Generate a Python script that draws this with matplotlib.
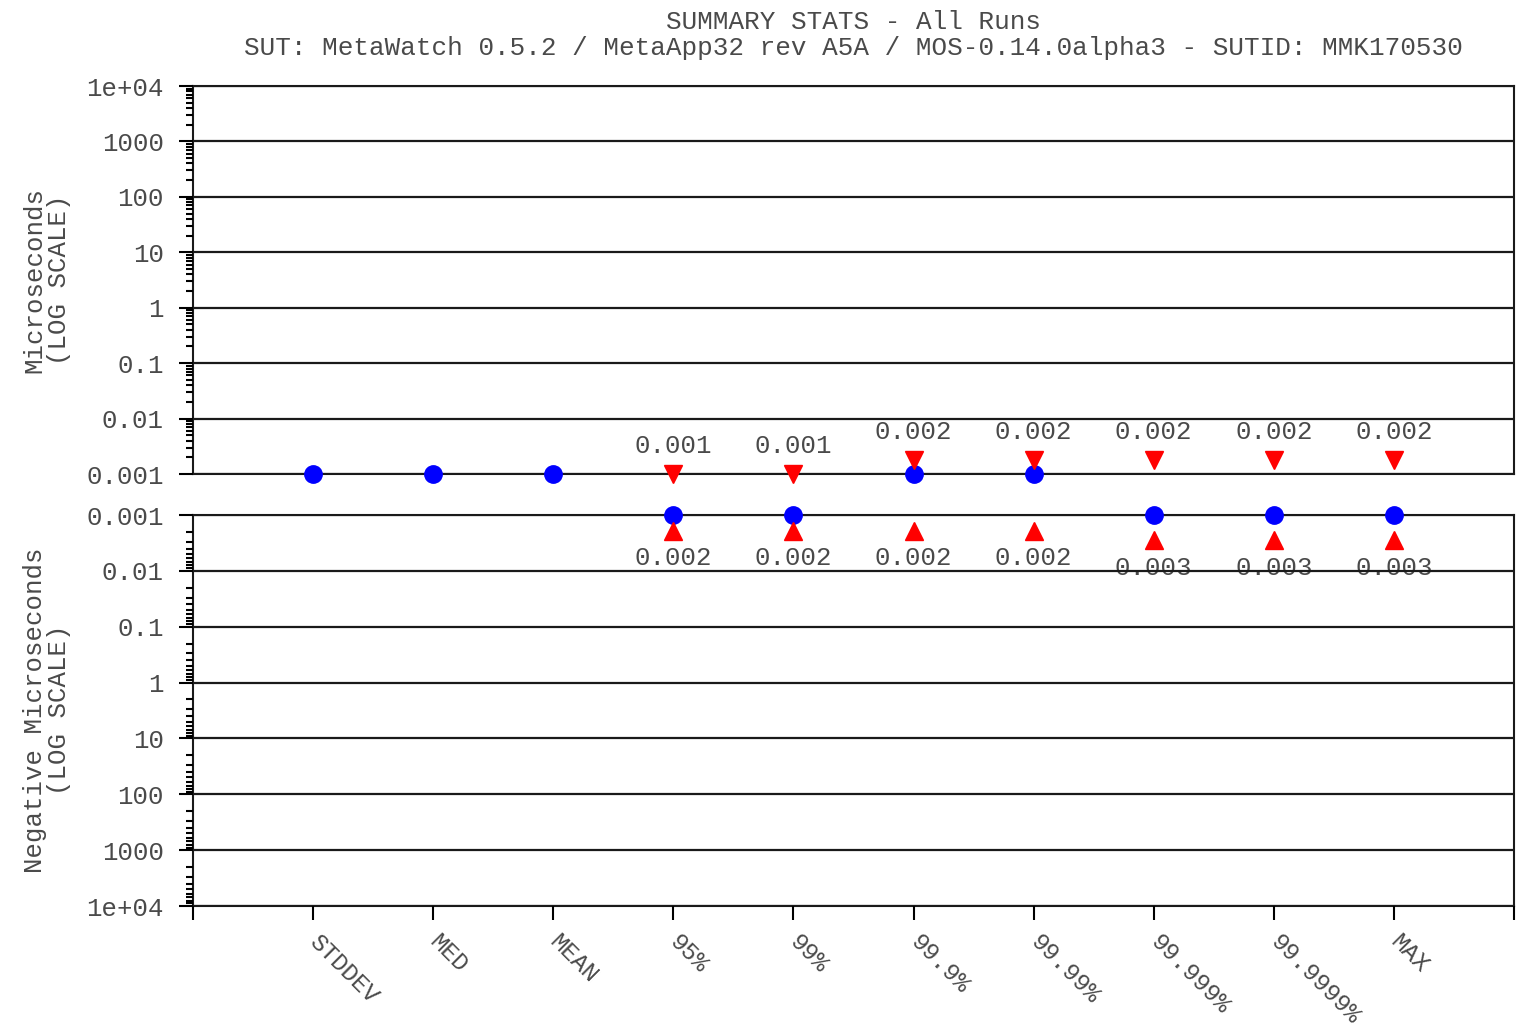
import numpy as np
import matplotlib
matplotlib.use("Agg")
import matplotlib.pyplot as plt
from matplotlib.ticker import FixedLocator, FixedFormatter, LogLocator, NullFormatter

plt.rcParams['font.family'] = ['Liberation Mono', 'DejaVu Sans Mono']

# --- data -------------------------------------------------------------
categories = ['STDDEV', 'MED', 'MEAN', '95%', '99%', '99.9%', '99.99%',
              '99.999%', '99.9999%', 'MAX']
nan = np.nan
# typical value (blue) on the positive / negative side
pos_center = [0.001, 0.001, 0.001, nan, nan, 0.001, 0.001, nan, nan, nan]
neg_center = [nan, nan, nan, 0.001, 0.001, nan, nan, 0.001, 0.001, 0.001]
# extreme value (red) on the positive / negative side
pos_peak = [nan, nan, nan, 0.001, 0.001, 0.0018, 0.0018, 0.0018, 0.0018, 0.0018]
neg_peak = [nan, nan, nan, 0.0019, 0.0019, 0.0019, 0.0019, 0.0028, 0.0028, 0.0028]

decades = [0.001, 0.01, 0.1, 1, 10, 100, 1000, 1e4]
decade_labels = ['0.001', '0.01', '0.1', '1', '10', '100', '1000', '1e+04']

title_lines = ["SUMMARY STATS - All Runs",
               "SUT: MetaWatch 0.5.2 / MetaApp32 rev A5A / MOS-0.14.0alpha3 - SUTID: MMK170530"]

# --- styling ----------------------------------------------------------
TXT = '#4a4a4a'
W, H = 1524, 1031
fig = plt.figure(figsize=(W / 100, H / 100), dpi=100)

left, right = 193 / W, 1514 / W
ax_top = fig.add_axes([left, 1 - 474 / H, right - left, 388 / H])
ax_bot = fig.add_axes([left, 1 - 906 / H, right - left, 391 / H])

x = np.arange(len(categories))


def style_axis(ax):
    ax.set_yscale('log')
    ax.set_xlim(-1, len(categories))
    ax.yaxis.set_major_locator(FixedLocator(decades))
    ax.yaxis.set_major_formatter(FixedFormatter(decade_labels))
    ax.yaxis.set_minor_locator(LogLocator(base=10, subs=np.arange(2, 10), numticks=50))
    ax.yaxis.set_minor_formatter(NullFormatter())
    ax.tick_params(axis='y', which='major', length=10, width=1.5, labelsize=18.5,
                   labelcolor=TXT, pad=11)
    ax.tick_params(axis='y', which='minor', length=5, width=1.5)
    for s in ax.spines.values():
        s.set_linewidth(1.5)
        s.set_color('#1a1a1a')
    ax.set_axisbelow(False)
    ax.grid(True, axis='y', which='major', color='#1a1a1a', linewidth=1.6)


style_axis(ax_top)
ax_top.set_ylim(0.001, 1e4)
ax_top.set_xticks([])

style_axis(ax_bot)
ax_bot.set_ylim(1e4, 0.001)
ax_bot.set_xticks(np.arange(-1, len(categories) + 1))
ax_bot.set_xticklabels([''] + categories + [''], rotation=-45,
                       rotation_mode='anchor', ha='left', va='center')
ax_bot.tick_params(axis='x', length=10, width=1.5, labelsize=17.5,
                   labelcolor=TXT, pad=13)

# --- marks ------------------------------------------------------------
mk = dict(linestyle='none', clip_on=False, zorder=4)
ax_top.plot(x, pos_center, marker='o', color='#0000ff', markersize=12.5, **mk)
ax_bot.plot(x, neg_center, marker='o', color='#0000ff', markersize=12.5, **mk)
ax_top.plot(x, pos_peak, marker='v', color='#ff0000', markersize=13, **mk)
ax_bot.plot(x, neg_peak, marker='^', color='#ff0000', markersize=13, **mk)

for xi, v in zip(x, pos_peak):
    if not np.isnan(v):
        ax_top.annotate(f"{v:.3f}", (xi, v), xytext=(0, 20), textcoords='offset points',
                        ha='center', va='center', fontsize=18.5, color=TXT,
                        zorder=1, annotation_clip=False)
for xi, v in zip(x, neg_peak):
    if not np.isnan(v):
        ax_bot.annotate(f"{v:.3f}", (xi, v), xytext=(0, -20), textcoords='offset points',
                        ha='center', va='center', fontsize=18.5, color=TXT,
                        zorder=1, annotation_clip=False)

# --- titles and axis labels -------------------------------------------
cx = (left + right) / 2
fig.text(cx, 1 - 22 / H, title_lines[0], ha='center', va='center', fontsize=18.7, color=TXT)
fig.text(cx, 1 - 48 / H, title_lines[1], ha='center', va='center', fontsize=18.7, color=TXT)

fig.text(47 / W, 1 - 280 / H, "Microseconds\n(LOG SCALE)", rotation=90,
         ha='center', va='center', fontsize=18.5, color=TXT, linespacing=1.05,
         multialignment='center')
fig.text(47 / W, 1 - 710 / H, "Negative Microseconds\n(LOG SCALE)", rotation=90,
         ha='center', va='center', fontsize=18.5, color=TXT, linespacing=1.05,
         multialignment='center')

fig.savefig('out.png', dpi=100, facecolor='white')
